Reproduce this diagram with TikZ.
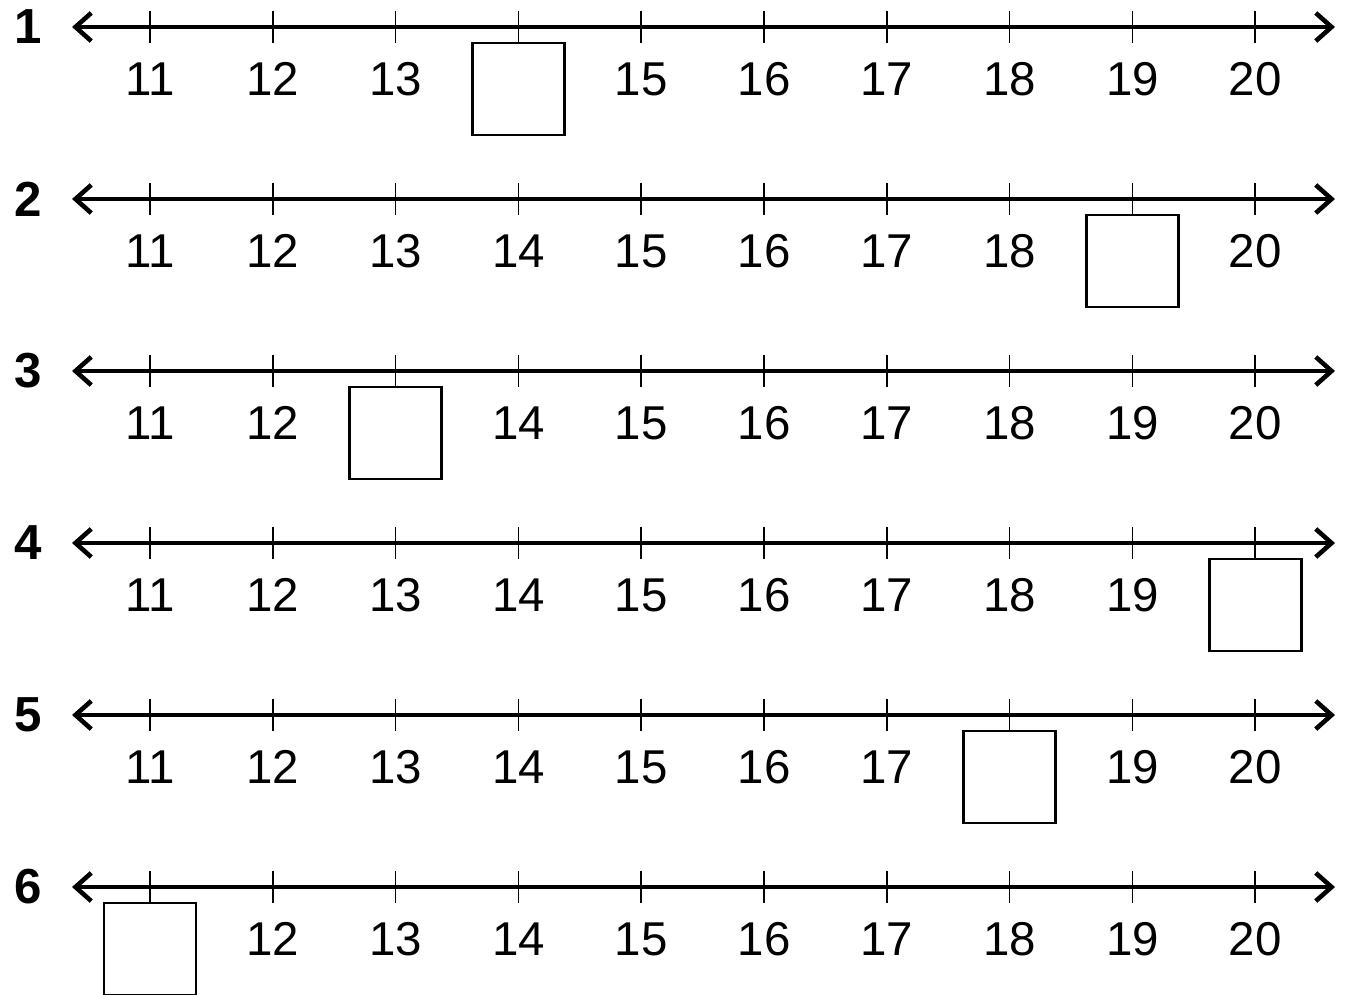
\documentclass[tikz,border=0pt]{standalone}
\usepackage{fontspec}
\setmainfont{Liberation Sans}
\usetikzlibrary{arrows.meta, positioning}

\tikzset{
    numline/.style={line width=1.3pt, {Straight Barb[length=4.5pt,width=8pt,line width=1.3pt]}-{Straight Barb[length=4.5pt,width=8pt,line width=1.3pt]}},
    tickmark/.style={line width=0.5pt},
    numlabel/.style={font=\fontsize{13.5}{16}\selectfont},
    rowlabel/.style={font=\fontsize{14}{16}\selectfont\bfseries},
    gapbox/.style={draw, line width=0.8pt, minimum size=0.92cm, inner sep=0pt, outer sep=0pt}
}

\begin{document}
\begin{tikzpicture}[x=0.01cm, y=-0.01cm]

    \useasboundingbox (0,0) rectangle (1349,994);

    % One number line per row, with the missing number boxed
    \foreach \row/\gap in {1/14, 2/19, 3/13, 4/20, 5/18, 6/11} {
        \pgfmathsetmacro{\y}{27+172*(\row-1)}
        \node[rowlabel] (row\row) at (28,\y) {\row};
        \coordinate (left\row) at (72,\y);
        \coordinate (right\row) at (1335,\y);
        \draw[numline] (left\row) -- (right\row);

        % Ticks and labels 11 to 20
        \foreach \n in {11,...,20} {
            \pgfmathsetmacro{\x}{150+122.8*(\n-11)}
            \coordinate (t\row-\n) at (\x,\y);
            \draw[tickmark] ([yshift=0.16cm]t\row-\n) -- ([yshift=-0.16cm]t\row-\n);
            \ifnum\n=\gap
                \node[gapbox, below=0.16cm of t\row-\n] (box\row) {};
            \else
                \node[numlabel] (lab\row-\n) at ([yshift=-0.52cm]t\row-\n) {\n};
            \fi
        }
    }

\end{tikzpicture}
\end{document}
